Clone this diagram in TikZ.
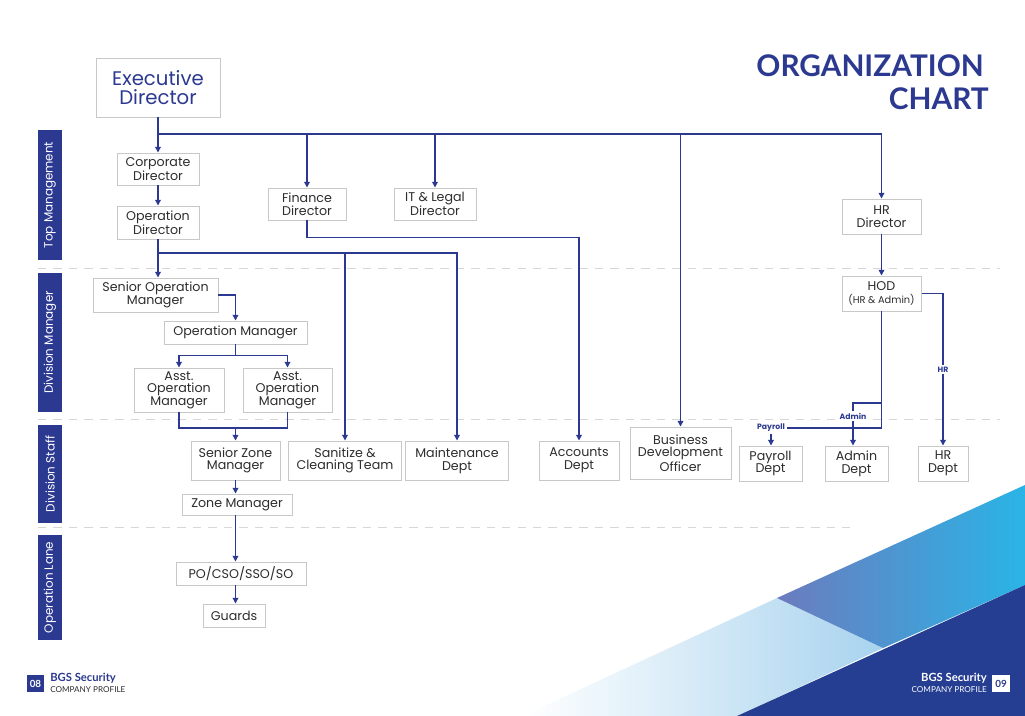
\documentclass[tikz,border=0pt]{standalone}
\usepackage{fontspec}
\setmainfont{Poppins}
\newfontfamily\latofont{Lato}
\usetikzlibrary{arrows.meta}

\definecolor{navy}{RGB}{43,57,144}
\definecolor{darknavy}{RGB}{37,62,146}
\definecolor{boxgray}{RGB}{200,200,200}
\definecolor{txtgray}{RGB}{45,45,45}
\definecolor{sepgray}{RGB}{215,215,218}
\definecolor{lightblue}{RGB}{168,211,238}
\definecolor{slate}{RGB}{108,123,190}
\definecolor{skycyan}{RGB}{42,180,230}

\begin{document}
\begin{tikzpicture}[x=0.025cm, y=-0.025cm,
    box/.style={draw=boxgray, line width=0.7pt, fill=white, text=txtgray, align=center,
        font=\fontsize{9}{9}\selectfont, inner sep=0pt},
    wh/.style 2 args={minimum width=#1*0.025cm, minimum height=#2*0.025cm},
    ln/.style={draw=navy, line width=0.9pt},
    arr/.style={draw=navy, line width=0.9pt, -{Triangle[length=4pt, width=4pt]}},
    band/.style={fill=navy, text=white, rotate=90, inner sep=0pt,
        font=\fontsize{8.5}{8.5}\selectfont},
    sep/.style={draw=sepgray, line width=0.7pt, dash pattern=on 6pt off 5pt},
    lbl/.style={fill=white, text=navy, inner sep=1pt, font=\bfseries\fontsize{5.5}{5.5}\selectfont}]

    % Page and background shapes
    \useasboundingbox (0,0) rectangle (1025,716);
    \fill[white] (0,0) rectangle (1025,716);
    \shade[left color=white, right color=lightblue] (523,716) -- (777,598) -- (883,648) -- (737,716) -- cycle;
    \shade[left color=slate, right color=skycyan] (777,598) -- (1025,485) -- (1025,585) -- (883,648) -- cycle;
    \fill[darknavy] (737,716) -- (1025,585) -- (1025,716) -- cycle;

    % Lane separators
    \draw[sep] (38,268) -- (1000,268);
    \draw[sep] (38,419) -- (1000,419);
    \draw[sep] (38,527) -- (850,527);

    % Lane bands
    \node[band, wh={130}{24}] (topm) at (50,195) {Top Management};
    \node[band, wh={139}{24}] (divm) at (50,342.5) {Division Manager};
    \node[band, wh={98}{24}] (divs) at (50,474) {Division Staff};
    \node[band, wh={105}{24}] (opl) at (50,587.5) {Operation Lane};

    % Title
    \node[anchor=east, text=navy, inner sep=0pt, font=\latofont\bfseries\fontsize{21.2}{21.2}\selectfont] (ttl1) at (984,66) {ORGANIZATION};
    \node[anchor=east, text=navy, inner sep=0pt, font=\latofont\bfseries\fontsize{21.2}{21.2}\selectfont] (ttl2) at (989,99) {CHART};

    % Top management
    \node[box, wh={124}{59}, text=navy, font=\fontsize{14}{14}\selectfont] (exec) at (158,87.5) {Executive\\Director};
    \node[box, wh={82}{32}] (corp) at (158,169) {Corporate\\Director};
    \node[box, wh={82}{33}] (opdir) at (158,222.5) {Operation\\Director};
    \node[box, wh={78}{32}] (fin) at (307,204) {Finance\\Director};
    \node[box, wh={82}{32}] (itl) at (435,204) {IT \& Legal\\Director};
    \node[box, wh={79}{35}] (hrdir) at (881.5,216.5) {HR\\Director};

    % Division managers
    \node[box, wh={79}{35}] (hod) at (881.5,293.5) {HOD\\{\fontsize{7}{7}\selectfont(HR \& Admin)}};
    \node[box, wh={125}{34}] (som) at (155.5,295) {Senior Operation\\Manager};
    \node[box, wh={143}{23}] (om) at (235.5,332.5) {Operation Manager};
    \node[box, wh={90}{44}] (ast1) at (179,390) {Asst.\\Operation\\Manager};
    \node[box, wh={89}{44}] (ast2) at (287.5,390) {Asst.\\Operation\\Manager};

    % Division staff
    \node[box, wh={89}{39}] (szm) at (235.5,460.5) {Senior Zone\\Manager};
    \node[box, wh={113}{39}] (san) at (345,460.5) {Sanitize \&\\Cleaning Team};
    \node[box, wh={103}{39}] (mnt) at (457,460.5) {Maintenance\\Dept};
    \node[box, wh={80}{39}] (acc) at (579,460.5) {Accounts\\Dept};
    \node[box, wh={101}{52}] (bdo) at (680.5,453) {Business\\Development\\Officer};
    \node[box, wh={63}{35}] (payd) at (770.5,463.5) {Payroll\\Dept};
    \node[box, wh={63}{35}] (admd) at (856.5,463.5) {Admin\\Dept};
    \node[box, wh={50}{35}] (hrd) at (943,463.5) {HR\\Dept};
    \node[box, wh={110}{21}] (zm) at (237,504.5) {Zone Manager};

    % Operation lane
    \node[box, wh={130}{23}] (po) at (241,573.5) {PO/CSO/SSO/SO};
    \node[box, wh={62}{23}] (grd) at (234,615.5) {Guards};

    % Small labels on the HR lines
    \node[lbl] (pay) at (771,428) {Payroll};
    \node[lbl] (adm) at (853,416) {Admin};

    % Connectors from the executive director
    \coordinate (b1) at (158,134);
    \draw[arr] (exec) -- (corp);
    \draw[arr] (corp) -- (opdir);
    \draw[arr] (b1) -| (fin.north);
    \draw[arr] (b1) -| (itl.north);
    \draw[arr] (b1) -| (bdo.north);
    \draw[arr] (b1) -| (hrdir.north);

    % Connectors from the operation director
    \coordinate (b2) at (158,253);
    \draw[arr] (opdir) -- (opdir |- som.north);
    \draw[arr] (b2) -| (san.north);
    \draw[arr] (b2) -| (mnt.north);
    \draw[arr] (fin.south) -- ++(0,17) -| (acc.north);

    % Operation chain
    \draw[arr] (som.east) -| (om.north);
    \draw[arr] (om.south) -- ++(0,11) -| (ast1.north);
    \draw[arr] (om.south) -- ++(0,11) -| (ast2.north);
    \coordinate (j3) at (235.5,428);
    \draw[ln] (ast1.south) |- (j3) -| (ast2.south);
    \draw[arr] (j3) -- (szm.north);
    \draw[arr] (szm.south) -- (szm.south |- zm.north);
    \draw[arr] (szm.south |- zm.south) -- (szm.south |- po.north);
    \draw[arr] (szm.south |- po.south) -- (szm.south |- grd.north);

    % HR chain
    \draw[arr] (hrdir) -- (hod);
    \draw[arr] (hod.east) -| (hrd.north) node[lbl, pos=0.75] (hrl) {HR};
    \draw[ln] (hod.south) |- (pay.east);
    \draw[arr] (pay.south) -- (pay.south |- payd.north);
    \coordinate (j4) at (881.5,403);
    \draw[ln] (j4) -| (adm.north);
    \draw[arr] (adm.south) -- (adm.south |- admd.north);

    % Footers
    \node[fill=navy, text=white, wh={17}{17}, inner sep=0pt, font=\latofont\bfseries\fontsize{7}{7}\selectfont] (pg8) at (35.5,683.5) {08};
    \node[anchor=south west, text=navy, inner sep=0pt, font=\latofont\bfseries\fontsize{8}{8}\selectfont] (brand1) at (50,684) {BGS Security};
    \node[anchor=north west, text=txtgray, inner sep=0pt, font=\latofont\fontsize{5.8}{5.8}\selectfont] (prof1) at (50,686) {COMPANY PROFILE};
    \node[fill=white, text=navy, wh={18}{17}, inner sep=0pt, font=\latofont\bfseries\fontsize{7}{7}\selectfont] (pg9) at (1001,683.5) {09};
    \node[anchor=south east, text=white, inner sep=0pt, font=\latofont\bfseries\fontsize{8}{8}\selectfont] (brand2) at (987,684) {BGS Security};
    \node[anchor=north east, text=white, inner sep=0pt, font=\latofont\fontsize{5.8}{5.8}\selectfont] (prof2) at (987,686) {COMPANY PROFILE};
\end{tikzpicture}
\end{document}
